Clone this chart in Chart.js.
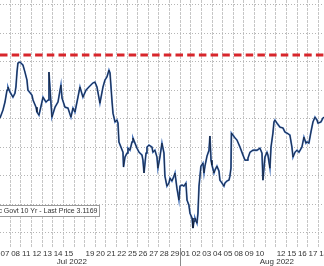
<!DOCTYPE html>
<html><head><meta charset="utf-8">
<script src="https://cdn.jsdelivr.net/npm/chart.js@4.4.0/dist/chart.umd.min.js"></script>
<style>html,body{margin:0;padding:0;background:#fff;overflow:hidden}#wrap{width:324px;height:266px;position:relative}</style>
</head><body><div id="wrap"><canvas id="c" width="324" height="266"></canvas></div>
<script>
// x tick labels: one per trading day (blank where the original skips a label)
const dayLabels = ["07","08","11","12","13","14","15","","19","20","21","22","25","26","27","28","29","01","02","03","04","05","08","09","10","","12","15","16","17","18"];
const monthLabels = ["Jul 2022", "Aug 2022"];
const monthLabelPos = [6.8, 26.1];      // in trading-day units
const monthBoundary = 17;               // Jul / Aug boundary (trading-day units)
const yTicks = [2.5, 2.6, 2.7, 2.8, 2.9, 3.0, 3.1, 3.2, 3.3];
const lastPriceLevel = 3.123;
const legendText = "US Generic Govt 10 Yr - Last Price 3.1169";

// time in trading days since Jul 7 open, yield in %
const times = [0.03,0.31,0.50,0.69,0.78,0.97,1.25,1.44,1.53,1.63,1.72,1.91,2.19,2.38,2.57,2.66,3.04,3.14,3.42,3.51,3.70,3.98,4.08,4.36,4.55,4.64,4.83,4.92,5.21,5.49,5.77,5.87,6.15,6.43,6.71,6.90,7.09,7.37,7.56,7.84,8.13,8.41,8.78,8.97,9.16,9.44,9.73,9.91,10.10,10.29,10.39,10.57,10.67,10.86,11.04,11.14,11.23,11.42,11.61,11.66,11.80,11.99,12.08,12.27,12.46,12.55,12.74,12.93,13.12,13.40,13.49,13.59,13.78,13.87,14.06,14.34,14.43,14.62,14.81,14.90,15.09,15.28,15.47,15.56,15.75,15.94,16.04,16.22,16.41,16.51,16.69,16.88,16.98,17.17,17.35,17.54,17.64,17.82,17.92,18.11,18.20,18.30,18.39,18.58,18.67,18.77,18.95,19.14,19.24,19.33,19.52,19.71,19.80,19.90,19.99,20.18,20.27,20.46,20.65,20.74,20.93,21.12,21.21,21.40,21.59,21.68,21.78,21.82,21.97,22.16,22.34,22.63,22.91,23.10,23.29,23.38,23.57,23.85,24.23,24.51,24.70,24.79,24.98,25.17,25.26,25.45,25.55,25.73,25.83,25.92,26.11,26.39,26.68,26.86,27.05,27.33,27.52,27.62,27.81,28.00,28.18,28.46,28.65,28.84,28.93,29.12,29.31,29.50,29.69,29.88,29.97,30.25,30.44,30.54];
const yields = [2.902,2.930,2.958,3.000,3.011,2.993,2.975,2.989,3.011,3.063,3.095,3.098,3.088,3.063,3.035,3.000,2.982,2.965,2.940,2.923,2.912,2.958,2.975,2.958,2.965,3.063,2.954,2.905,2.940,2.958,3.018,2.972,2.940,2.937,2.905,2.937,2.923,2.975,3.011,2.975,3.000,3.011,3.025,3.028,3.011,2.954,3.011,3.035,3.046,3.070,3.060,2.965,2.919,2.888,2.895,2.884,2.818,2.800,2.782,2.730,2.765,2.779,2.796,2.789,2.818,2.832,2.814,2.796,2.782,2.772,2.754,2.709,2.779,2.800,2.807,2.800,2.782,2.789,2.765,2.726,2.765,2.814,2.779,2.698,2.663,2.674,2.691,2.681,2.698,2.709,2.656,2.614,2.663,2.667,2.663,2.674,2.614,2.596,2.568,2.551,2.516,2.540,2.551,2.533,2.568,2.663,2.733,2.744,2.709,2.733,2.768,2.789,2.839,2.754,2.737,2.709,2.719,2.733,2.716,2.684,2.674,2.663,2.674,2.681,2.684,2.698,2.726,2.849,2.842,2.832,2.825,2.800,2.772,2.754,2.754,2.761,2.782,2.789,2.789,2.796,2.779,2.684,2.765,2.782,2.772,2.726,2.800,2.849,2.888,2.895,2.884,2.870,2.867,2.853,2.849,2.842,2.800,2.765,2.782,2.789,2.782,2.800,2.835,2.814,2.818,2.814,2.853,2.888,2.905,2.895,2.884,2.888,2.902,2.905];

const xMin = 0.03, xMax = 30.54, yMin = 2.446, yMax = 3.316;
const points = times.map((t, i) => ({x: t, y: yields[i]}));
const FONT = '"Liberation Sans", Arial, sans-serif';

const overlay = {
  id: 'overlay',
  afterDraw(chart) {
    const ctx = chart.ctx, xs = chart.scales.x, area = chart.chartArea;
    // Jul/Aug separator in the axis band
    const sx = Math.round(xs.getPixelForValue(monthBoundary)) + 0.5;
    ctx.save();
    ctx.strokeStyle = '#8a8a8a'; ctx.lineWidth = 1;
    ctx.beginPath(); ctx.moveTo(sx, area.bottom); ctx.lineTo(sx, chart.height); ctx.stroke();
    // legend box
    ctx.font = '7px ' + FONT;
    ctx.fillStyle = '#fff'; ctx.strokeStyle = '#9a9a9a';
    ctx.fillRect(-6, 205, 105.5, 12);
    ctx.strokeRect(-5.5, 205.5, 105, 11);
    ctx.fillStyle = '#333'; ctx.textAlign = 'right'; ctx.textBaseline = 'middle';
    ctx.fillText(legendText, 97.5, 211.5);
    ctx.restore();
  }
};

new Chart(document.getElementById('c'), {
  type: 'line',
  data: {
    datasets: [
      {data: [{x: xMin, y: lastPriceLevel}, {x: xMax, y: lastPriceLevel}], borderColor: '#d8262c', borderWidth: 3, borderDash: [7.5, 4.2], pointRadius: 0, order: 3},
      {data: points, borderColor: '#4673bb', borderWidth: 1.8, pointRadius: 0, tension: 0, order: 2},
      {data: points, borderColor: '#0f1a30', borderWidth: 0.8, pointRadius: 0, tension: 0, order: 1}
    ]
  },
  options: {
    responsive: false, animation: false, devicePixelRatio: 1,
    layout: {padding: 0},
    plugins: {legend: {display: false}, tooltip: {enabled: false}},
    scales: {
      x: {
        type: 'linear', position: 'bottom', min: xMin, max: xMax, weight: 0,
        afterBuildTicks: s => { s.ticks = dayLabels.map((_, i) => ({value: i + 0.5})); },
        afterFit: s => { s.paddingLeft = 0; s.paddingRight = 0; s.height = 9; },
        ticks: {autoSkip: false, maxRotation: 0, padding: 1, color: '#333', font: {size: 8, family: FONT}, callback: (v, i) => dayLabels[i]},
        grid: {offset: true, color: '#c6c6c6', drawTicks: false, lineWidth: 1},
        border: {display: false, dash: [3, 1]}
      },
      x2: {
        type: 'linear', position: 'bottom', min: xMin, max: xMax, weight: 1,
        afterBuildTicks: s => { s.ticks = monthLabelPos.map(v => ({value: v})); },
        afterFit: s => { s.paddingLeft = 0; s.paddingRight = 0; s.height = 9; },
        ticks: {autoSkip: false, maxRotation: 0, padding: 0, color: '#333', font: {size: 8, family: FONT}, callback: (v, i) => monthLabels[i]},
        grid: {display: false, drawTicks: false},
        border: {display: false}
      },
      y: {
        type: 'linear', position: 'left', min: yMin, max: yMax,
        afterBuildTicks: s => { s.ticks = yTicks.map(v => ({value: v})); },
        afterFit: s => { s.width = 0; },
        ticks: {display: false},
        grid: {color: '#b5b5b5', drawTicks: false, lineWidth: 1},
        border: {display: false, dash: [1, 2]}
      }
    }
  },
  plugins: [overlay]
});
</script></body></html>
